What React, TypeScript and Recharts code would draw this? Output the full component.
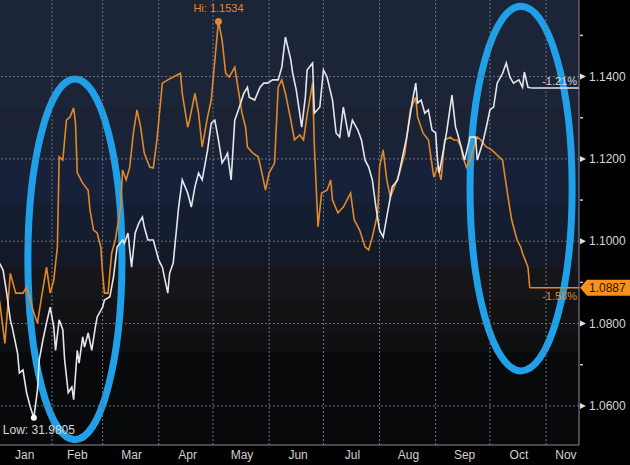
import { LineChart, Line, XAxis, YAxis, ReferenceLine, ReferenceArea, ReferenceDot } from "recharts";

// day of year (Jan 1 = 0) and closing values
const orangeDays = [
  2, 5, 8, 11, 15, 17, 21, 23, 25, 28, 30, 32, 34, 35, 37, 39, 41, 43, 44, 45, 48, 51, 52, 54, 56, 58, 59, 60, 62, 64,
  66, 69, 70, 72, 74, 76, 78, 80, 82, 85, 87, 89, 92, 95, 98, 102, 103, 106, 107, 110, 112, 114, 117, 119, 121, 123,
  125, 127, 129, 132, 134, 136, 138, 139, 142, 145, 147, 149, 151, 154, 156, 158, 160, 163, 165, 168, 170, 172, 175,
  176, 178, 180, 183, 185, 186, 189, 192, 196, 198, 201, 204, 206, 208, 211, 212, 214, 216, 218, 221, 223, 226, 229,
  232, 233, 236, 239, 242, 244, 246, 248, 251, 253, 255, 257, 258, 260, 262, 264, 266, 268, 269, 271, 274, 277, 280,
  281, 283, 285, 286, 288, 290, 291, 294, 295,
];
const orangeValues = [
  1.0857, 1.0752, 1.0922, 1.0874, 1.0874, 1.0889, 1.0826, 1.0801, 1.0857, 1.0937, 1.0874, 1.0905, 1.0986, 1.1205,
  1.1197, 1.1294, 1.1302, 1.1324, 1.1287, 1.1166, 1.1141, 1.1124, 1.1076, 1.1027, 1.102, 1.0986, 1.0922, 1.0874,
  1.0874, 1.0971, 1.1003, 1.1083, 1.1173, 1.1149, 1.118, 1.1263, 1.1319, 1.1277, 1.1214, 1.118, 1.1178, 1.1246,
  1.1384, 1.1392, 1.1399, 1.1408, 1.1359, 1.1277, 1.1294, 1.1359, 1.1311, 1.1229, 1.1302, 1.1343, 1.144, 1.1534,
  1.1489, 1.1408, 1.1399, 1.1423, 1.1367, 1.1311, 1.1277, 1.1229, 1.1214, 1.1205, 1.1166, 1.1124, 1.1166, 1.119,
  1.1374, 1.1392, 1.1359, 1.1294, 1.1246, 1.1258, 1.1246, 1.1307, 1.1384, 1.1229, 1.1035, 1.1117, 1.1124, 1.1149,
  1.11, 1.1069, 1.1083, 1.1117, 1.1052, 1.1027, 1.0986, 1.0979, 1.101, 1.1069, 1.118, 1.1222, 1.1149, 1.1107,
  1.1141, 1.1166, 1.1214, 1.1319, 1.135, 1.1302, 1.1263, 1.1246, 1.1156, 1.118, 1.1149, 1.1246, 1.1253, 1.1246,
  1.1246, 1.1229, 1.1205, 1.118, 1.1197, 1.1229, 1.1253, 1.1246, 1.1239, 1.1229, 1.1222, 1.1209, 1.1197, 1.1166,
  1.1107, 1.1052, 1.1035, 1.1003, 1.0986, 1.0971, 1.0937, 1.0887,
];

const whiteDays = [
  2, 4, 6, 8, 9, 12, 13, 15, 17, 19, 21, 23, 24, 26, 28, 30, 32, 33, 35, 37, 38, 40, 42, 43, 45, 46, 48, 49, 51, 53,
  55, 56, 59, 60, 63, 65, 67, 70, 71, 73, 75, 77, 79, 81, 82, 84, 87, 90, 92, 95, 96, 98, 101, 103, 106, 108, 110,
  112, 114, 116, 117, 119, 121, 123, 125, 127, 128, 130, 132, 134, 137, 139, 140, 143, 146, 148, 150, 153, 156, 158,
  160, 163, 164, 166, 169, 171, 172, 175, 176, 179, 181, 183, 186, 188, 190, 192, 195, 197, 200, 202, 204, 206, 208,
  210, 212, 214, 216, 219, 222, 224, 227, 230, 232, 233, 235, 237, 239, 241, 243, 244, 245, 249, 252, 254, 255, 258,
  259, 262, 265, 266, 269, 271, 273, 275, 277, 280, 282, 284, 286, 289, 291, 292, 294, 296,
];
const whiteValues = [
  1.0947, 1.093, 1.0874, 1.0809, 1.0792, 1.0728, 1.068, 1.0687, 1.0632, 1.0598, 1.0571, 1.0639, 1.0712, 1.076,
  1.0801, 1.084, 1.0792, 1.0735, 1.0809, 1.0785, 1.0712, 1.0632, 1.0646, 1.0615, 1.0735, 1.0704, 1.0768, 1.0743,
  1.0777, 1.0735, 1.0792, 1.0816, 1.084, 1.0857, 1.0865, 1.0913, 1.0986, 1.1003, 1.0995, 1.102, 1.0937, 1.102,
  1.1044, 1.1059, 1.1035, 1.1003, 1.1003, 1.0954, 1.0937, 1.0874, 1.0922, 1.0947, 1.1083, 1.1149, 1.1117, 1.1083,
  1.1132, 1.1166, 1.1149, 1.1197, 1.1222, 1.1287, 1.1294, 1.1246, 1.119, 1.1205, 1.1214, 1.1149, 1.1294, 1.1319,
  1.1359, 1.1374, 1.135, 1.1343, 1.1374, 1.1384, 1.1384, 1.1392, 1.1392, 1.1423, 1.1496, 1.144, 1.1408, 1.1367,
  1.1277, 1.135, 1.1416, 1.1433, 1.1311, 1.1326, 1.1416, 1.1399, 1.1343, 1.1263, 1.1253, 1.1326, 1.1253, 1.1294,
  1.127, 1.1246, 1.1197, 1.118, 1.1149, 1.1083, 1.1027, 1.101, 1.1059, 1.1132, 1.1149, 1.119, 1.1253, 1.1336,
  1.1384, 1.1336, 1.1343, 1.1311, 1.1319, 1.127, 1.1263, 1.1197, 1.1166, 1.1263, 1.1355, 1.1277, 1.1263, 1.1214,
  1.1197, 1.1253, 1.1253, 1.1197, 1.1239, 1.1277, 1.1319, 1.1326, 1.1384, 1.1408, 1.1433, 1.1399, 1.1384, 1.1392,
  1.1374, 1.1411, 1.1374, 1.1372,
];

const monthLabels = ["Jan", "Feb", "Mar", "Apr", "May", "Jun", "Jul", "Aug", "Sep", "Oct", "Nov"];
const monthLabelDays = [16, 45, 75, 106, 136, 167, 197, 228, 259, 289, 315];
const monthStarts = [31, 59, 90, 120, 151, 181, 212, 243, 273, 304];

const yMajor = [1.06, 1.08, 1.1, 1.12, 1.14];
const yTicks = [1.06, 1.07, 1.08, 1.09, 1.1, 1.11, 1.12, 1.13, 1.14, 1.15];

const orangeLast = 1.0887;
const orangeChange = "-1.58%";
const whiteLast = 1.1372;
const whiteChange = "-1.21%";
const hiPoint = { day: 123, value: 1.1534, text: "Hi: 1.1534" };
const lowPoint = { day: 21, value: 1.0571, text: "Low: 31.9805" };

// highlighted periods (circled in the picture)
const highlights = [
  { x1: 17.7, x2: 69.7, y1: 1.0518, y2: 1.1394 },
  { x1: 262, x2: 318.4, y1: 1.0685, y2: 1.1571 },
];

const X_DOMAIN: [number, number] = [2.3, 322.2];
const Y_DOMAIN: [number, number] = [1.0505, 1.1586];

const ORANGE = "#e0892a";
const WHITE = "#e4e6ee";
const GRID = "#6b7282";
const BLUE = "#1fa0e8";
const FONT = "'Liberation Sans', Arial, sans-serif";

const orangeData = orangeDays.map((day, i) => ({ day, value: orangeValues[i] }));
const whiteData = whiteDays.map((day, i) => ({ day, value: whiteValues[i] }));

function YTick({ x, y, payload }: any) {
  const v = payload.value as number;
  const major = yMajor.some((m) => Math.abs(m - v) < 1e-6);
  if (!major) {
    return <line x1={x + 1} x2={x + 4} y1={y} y2={y} stroke="#c8c8c8" strokeWidth={1.5} />;
  }
  return (
    <g>
      <path d={`M${x + 1},${y - 3} L${x + 7},${y} L${x + 1},${y + 3} Z`} fill="#e0e0e0" />
      <text x={x + 10} y={y} dy="0.35em" fill="#d6d6d6" fontSize={12} fontFamily={FONT}>
        {v.toFixed(4)}
      </text>
    </g>
  );
}

const ellipseShape = (p: any) => (
  <ellipse
    cx={p.x + p.width / 2}
    cy={p.y + p.height / 2}
    rx={p.width / 2}
    ry={p.height / 2}
    fill="none"
    stroke={BLUE}
    strokeWidth={7}
  />
);

export default function App() {
  return (
    <div style={{ position: "absolute", left: 0, top: 0, width: 630, height: 465, background: "#000" }}>
      <LineChart width={630} height={465} margin={{ top: 0, right: 0, bottom: 0, left: 0 }} style={{ fontFamily: FONT }}>
        <defs>
          <linearGradient id="bgBands" x1="0" y1="0" x2="0" y2="1">
            <stop offset="0" stopColor="#1c2437" />
            <stop offset="0.24" stopColor="#1c2437" />
            <stop offset="0.24" stopColor="#1a2233" />
            <stop offset="0.285" stopColor="#1a2233" />
            <stop offset="0.285" stopColor="#1a2235" />
            <stop offset="0.355" stopColor="#1a2235" />
            <stop offset="0.355" stopColor="#18213a" />
            <stop offset="0.455" stopColor="#18213a" />
            <stop offset="0.455" stopColor="#151d30" />
            <stop offset="0.54" stopColor="#151d30" />
            <stop offset="0.54" stopColor="#131927" />
            <stop offset="0.6" stopColor="#131927" />
            <stop offset="0.6" stopColor="#161519" />
            <stop offset="0.675" stopColor="#161519" />
            <stop offset="0.675" stopColor="#121215" />
            <stop offset="0.75" stopColor="#121215" />
            <stop offset="0.75" stopColor="#0e0f11" />
            <stop offset="0.79" stopColor="#0e0f11" />
            <stop offset="0.79" stopColor="#08090b" />
            <stop offset="1" stopColor="#08090b" />
          </linearGradient>
        </defs>
        <XAxis
          type="number"
          dataKey="day"
          domain={X_DOMAIN}
          allowDataOverflow
          ticks={monthLabelDays}
          interval={0}
          tickFormatter={(v) => monthLabels[monthLabelDays.indexOf(v)]}
          height={20}
          tickSize={0}
          tickMargin={5}
          tickLine={false}
          axisLine={{ stroke: "#8c8c8c" }}
          tick={{ fill: "#d0d0d0", fontSize: 12 }}
        />
        <YAxis
          orientation="right"
          type="number"
          domain={Y_DOMAIN}
          allowDataOverflow
          ticks={yTicks}
          interval={0}
          width={51}
          tickSize={0}
          tickMargin={0}
          tickLine={false}
          axisLine={{ stroke: "#8c8c8c" }}
          tick={<YTick />}
        />
        <ReferenceArea x1={X_DOMAIN[0]} x2={X_DOMAIN[1]} y1={Y_DOMAIN[0]} y2={Y_DOMAIN[1]} fill="url(#bgBands)" fillOpacity={1} stroke="none" />
        {yMajor.map((v) => (
          <ReferenceLine key={`h${v}`} y={v} stroke={GRID} strokeDasharray="2 2" strokeWidth={1} />
        ))}
        {monthStarts.map((d) => (
          <ReferenceLine key={`v${d}`} x={d} stroke={GRID} strokeDasharray="2 2" strokeWidth={1} />
        ))}
        <Line data={orangeData} dataKey="value" type="linear" stroke={ORANGE} strokeWidth={1.6} dot={false} isAnimationActive={false} />
        <Line data={whiteData} dataKey="value" type="linear" stroke={WHITE} strokeWidth={1.6} dot={false} isAnimationActive={false} />
        <ReferenceLine
          segment={[
            { x: orangeDays[orangeDays.length - 1], y: orangeLast },
            { x: X_DOMAIN[1], y: orangeLast },
          ]}
          stroke={ORANGE}
          strokeWidth={1.5}
        />
        <ReferenceLine
          segment={[
            { x: whiteDays[whiteDays.length - 1], y: whiteLast },
            { x: X_DOMAIN[1], y: whiteLast },
          ]}
          stroke={WHITE}
          strokeWidth={1.5}
        />
        <ReferenceDot
          x={hiPoint.day}
          y={hiPoint.value}
          r={3.5}
          fill={ORANGE}
          stroke="none"
          ifOverflow="visible"
          label={{ value: hiPoint.text, position: "top", fill: ORANGE, fontSize: 11, offset: 6 }}
        />
        <ReferenceDot
          x={lowPoint.day}
          y={lowPoint.value}
          r={3}
          fill="#ffffff"
          stroke="none"
          ifOverflow="visible"
        />
        <ReferenceDot
          x={lowPoint.day}
          y={lowPoint.value}
          r={0}
          ifOverflow="visible"
          shape={(p: any) => (
            <text x={p.cx - 31} y={p.cy + 16} fill="#d8d8d8" fontSize={12} fontFamily={FONT}>
              {lowPoint.text}
            </text>
          )}
        />
        <ReferenceDot
          x={X_DOMAIN[1]}
          y={whiteLast}
          r={0}
          ifOverflow="visible"
          shape={(p: any) => (
            <text x={p.cx - 2} y={p.cy - 3} textAnchor="end" fill="#d8d8d8" fontSize={11} fontFamily={FONT}>
              {whiteChange}
            </text>
          )}
        />
        <ReferenceDot
          x={X_DOMAIN[1]}
          y={orangeLast}
          r={0}
          ifOverflow="visible"
          shape={(p: any) => (
            <g>
              <text x={p.cx - 2} y={p.cy + 12} textAnchor="end" fill={ORANGE} fontSize={11} fontFamily={FONT}>
                {orangeChange}
              </text>
              <path
                d={`M${p.cx + 1},${p.cy} L${p.cx + 8},${p.cy - 8} L${p.cx + 51},${p.cy - 8} L${p.cx + 51},${p.cy + 8} L${p.cx + 8},${p.cy + 8} Z`}
                fill="#f5921e"
              />
              <text x={p.cx + 10} y={p.cy} dy="0.36em" fill="#2a1600" fontSize={12} fontFamily={FONT}>
                {orangeLast.toFixed(4)}
              </text>
            </g>
          )}
        />
        {highlights.map((h, i) => (
          <ReferenceArea key={`e${i}`} x1={h.x1} x2={h.x2} y1={h.y1} y2={h.y2} ifOverflow="visible" shape={ellipseShape} />
        ))}
      </LineChart>
    </div>
  );
}
